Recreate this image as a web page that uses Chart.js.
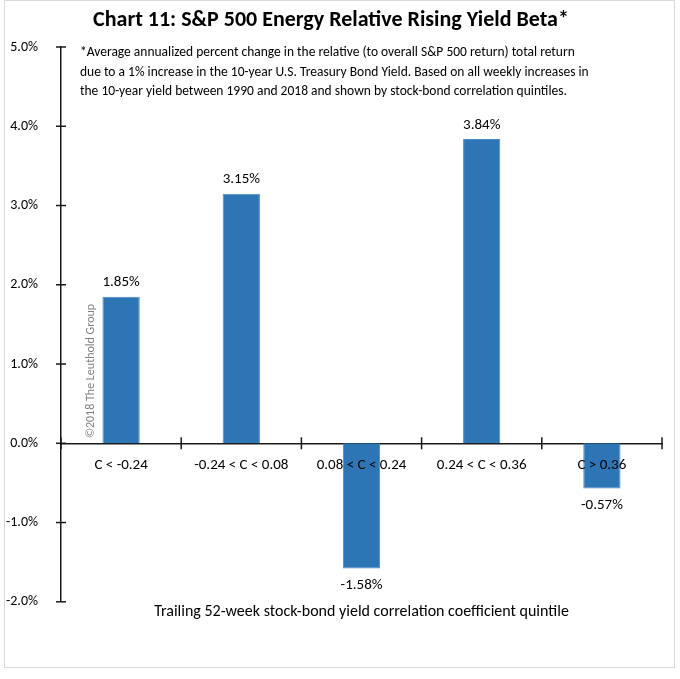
<!DOCTYPE html>
<html>
<head>
<meta charset="utf-8">
<script src="https://cdn.jsdelivr.net/npm/chart.js@4.4.0/dist/chart.umd.min.js"></script>
<style>
    html, body { margin: 0; padding: 0; background: #fff; }
</style>
</head>
<body>
<canvas id="yieldBetaChart" width="680" height="679"></canvas>
<script>
const categories = ['C < -0.24', '-0.24 < C < 0.08', '0.08 < C < 0.24', '0.24 < C < 0.36', 'C > 0.36'];
const betaValues = [1.85, 3.15, -1.58, 3.84, -0.57];
const yTicks = [-2, -1, 0, 1, 2, 3, 4, 5];
const noteLines = [
    '*Average annualized percent change in the relative (to overall S&P 500 return) total return',
    'due to a 1% increase in the 10-year U.S. Treasury Bond Yield. Based on all weekly increases in',
    'the 10-year yield between 1990 and 2018 and shown by stock-bond correlation quintiles.'
];

const FONT = 'Carlito, Lato, "Open Sans", sans-serif';

// frame, note text, copyright, tick crosses and value labels
const extras = {
    id: 'extras',
    beforeDraw(chart) {
        const ctx = chart.ctx;
        ctx.save();
        ctx.fillStyle = '#fff';
        ctx.fillRect(0, 0, chart.width, chart.height);
        ctx.strokeStyle = '#d9d9d9';
        ctx.lineWidth = 1;
        ctx.strokeRect(4.5, 0.5, 670, 667);
        ctx.restore();
    },
    afterDraw(chart) {
        const ctx = chart.ctx;
        const x = chart.scales.x;
        const y = chart.scales.y;
        ctx.save();

        // tick marks crossing both axes
        ctx.strokeStyle = '#1a1a1a';
        ctx.lineWidth = 1.5;
        const axisX = chart.chartArea.left;
        yTicks.forEach(v => {
            const py = y.getPixelForValue(v);
            ctx.beginPath();
            ctx.moveTo(axisX - 5, py);
            ctx.lineTo(axisX + 5, py);
            ctx.stroke();
        });
        const zeroY = y.getPixelForValue(0);
        for (let i = 0; i <= categories.length; i++) {
            const px = x.getPixelForValue(i - 0.5);
            ctx.beginPath();
            ctx.moveTo(px, zeroY - 6);
            ctx.lineTo(px, zeroY + 6);
            ctx.stroke();
        }

        // value labels
        ctx.fillStyle = '#000';
        ctx.font = '15px ' + FONT;
        ctx.textAlign = 'center';
        ctx.textBaseline = 'middle';
        chart.getDatasetMeta(0).data.forEach((bar, i) => {
            const v = betaValues[i];
            const ly = v >= 0 ? bar.y - 14 : bar.y + 17;
            ctx.fillText(v.toFixed(2) + '%', bar.x, ly);
        });

        // note
        ctx.textAlign = 'left';
        ctx.font = '13.5px ' + FONT;
        noteLines.forEach((line, i) => {
            ctx.fillText(line, 80, 53 + i * 19.5);
        });

        // copyright
        ctx.fillStyle = '#7f7f7f';
        ctx.font = '12px ' + FONT;
        ctx.translate(91, 371);
        ctx.rotate(-Math.PI / 2);
        ctx.textAlign = 'center';
        ctx.fillText('\u00A92018 The Leuthold Group', 0, 0);
        ctx.restore();
    }
};

new Chart(document.getElementById('yieldBetaChart').getContext('2d'), {
    type: 'bar',
    data: {
        labels: categories,
        datasets: [{
            data: betaValues,
            backgroundColor: '#2e75b6',
            borderColor: '#4a8bc9',
            borderWidth: 1,
            barPercentage: 0.31,
            categoryPercentage: 1.0
        }]
    },
    options: {
        responsive: false,
        animation: false,
        layout: {
            padding: { left: 0, right: 18, top: 0, bottom: 55 }
        },
        plugins: {
            legend: { display: false },
            tooltip: { enabled: false },
            title: {
                display: true,
                text: 'Chart 11: S&P 500 Energy Relative Rising Yield Beta*',
                color: '#000',
                font: { family: FONT, size: 22, weight: '600' },
                padding: { top: 7, bottom: 13.6 }
            }
        },
        scales: {
            x: {
                type: 'category',
                position: { y: 0 },
                grid: { display: false, drawTicks: false },
                border: { display: true, color: '#1a1a1a', width: 1.5 },
                ticks: {
                    z: 1, // labels over the bars
                    color: '#000',
                    font: { family: FONT, size: 15 },
                    padding: 13,
                    maxRotation: 0,
                    autoSkip: false
                }
            },
            x2: {
                type: 'category',
                axis: 'x',
                labels: categories,
                position: 'bottom',
                grid: { display: false, drawTicks: false },
                border: { display: false },
                ticks: { display: false },
                title: {
                    display: true,
                    text: 'Trailing 52-week stock-bond yield correlation coefficient quintile',
                    color: '#000',
                    font: { family: FONT, size: 16 },
                    padding: { top: 1, bottom: 2 }
                }
            },
            y: {
                min: -2,
                max: 5,
                afterBuildTicks: scale => {
                    scale.ticks = yTicks.map(v => ({ value: v }));
                },
                afterFit: scale => {
                    scale.width = 61;
                },
                grid: { display: false, drawTicks: false },
                border: { display: true, color: '#1a1a1a', width: 1.5 },
                ticks: {
                    color: '#000',
                    font: { family: FONT, size: 14 },
                    padding: 23,
                    callback: v => v.toFixed(1) + '%'
                }
            }
        }
    },
    plugins: [extras]
});
</script>
</body>
</html>
